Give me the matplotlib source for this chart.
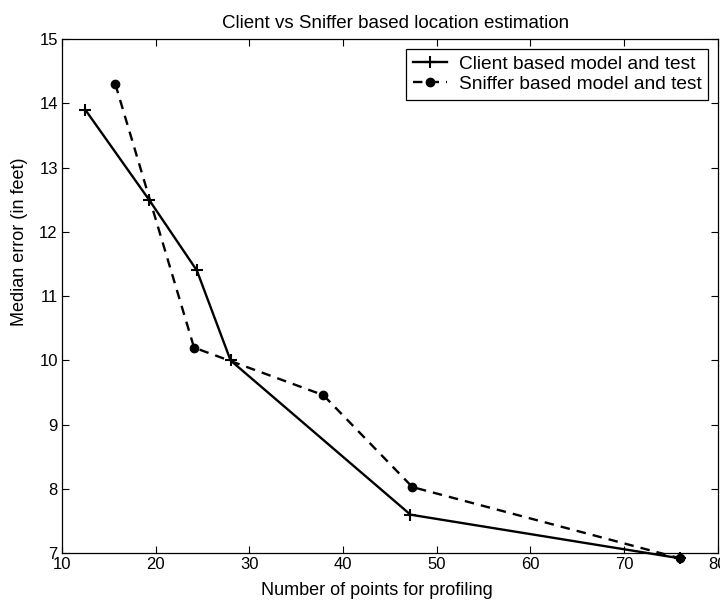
import matplotlib
matplotlib.use("Agg")
import matplotlib.pyplot as plt

plt.rcParams['font.family'] = ['Liberation Sans', 'DejaVu Sans']

client_x = [12.5, 19.3, 24.4, 28.0, 47.2, 76.0]
client_y = [13.9, 12.5, 11.4, 10.0, 7.6, 6.92]
sniffer_x = [15.7, 24.1, 37.9, 47.4, 76.0]
sniffer_y = [14.3, 10.2, 9.46, 8.03, 6.92]

xticks = [10, 20, 30, 40, 50, 60, 70, 80]
yticks = [7, 8, 9, 10, 11, 12, 13, 14, 15]

fig = plt.figure(figsize=(7.2, 6.02), dpi=100)
ax = fig.add_axes([0.086, 0.081, 0.911, 0.854])

ax.plot(client_x, client_y, color='black', linestyle='-', linewidth=1.7,
        marker='+', markersize=8, markeredgewidth=1.5, clip_on=False,
        label='Client based model and test')
ax.plot(sniffer_x, sniffer_y, color='black', linestyle=(0, (4, 3)), linewidth=1.7,
        marker='o', markersize=6, clip_on=False,
        label='Sniffer based model and test')

ax.set_xlim(10, 80)
ax.set_ylim(7, 15)
ax.set_xticks(xticks)
ax.set_yticks(yticks)
ax.tick_params(direction='in', top=True, right=True, length=5, width=0.8,
               labelsize=12, pad=3)
for s in ax.spines.values():
    s.set_linewidth(0.9)

ax.set_title('Client vs Sniffer based location estimation', fontsize=13.5,
             pad=8, x=0.508)
ax.set_xlabel('Number of points for profiling', fontsize=13, labelpad=6)
ax.xaxis.set_label_coords(0.48, -0.055)
ax.set_ylabel('Median error (in feet)', fontsize=13)
ax.yaxis.set_label_coords(-0.052, 0.605)

leg = ax.legend(loc='upper right', fontsize=13.8, frameon=True, fancybox=False,
                edgecolor='black', framealpha=1, borderaxespad=0.5,
                handlelength=1.8, handletextpad=0.6, borderpad=0.35,
                labelspacing=0.15)
leg.get_frame().set_linewidth(0.9)

fig.savefig('out.png', dpi=100)
